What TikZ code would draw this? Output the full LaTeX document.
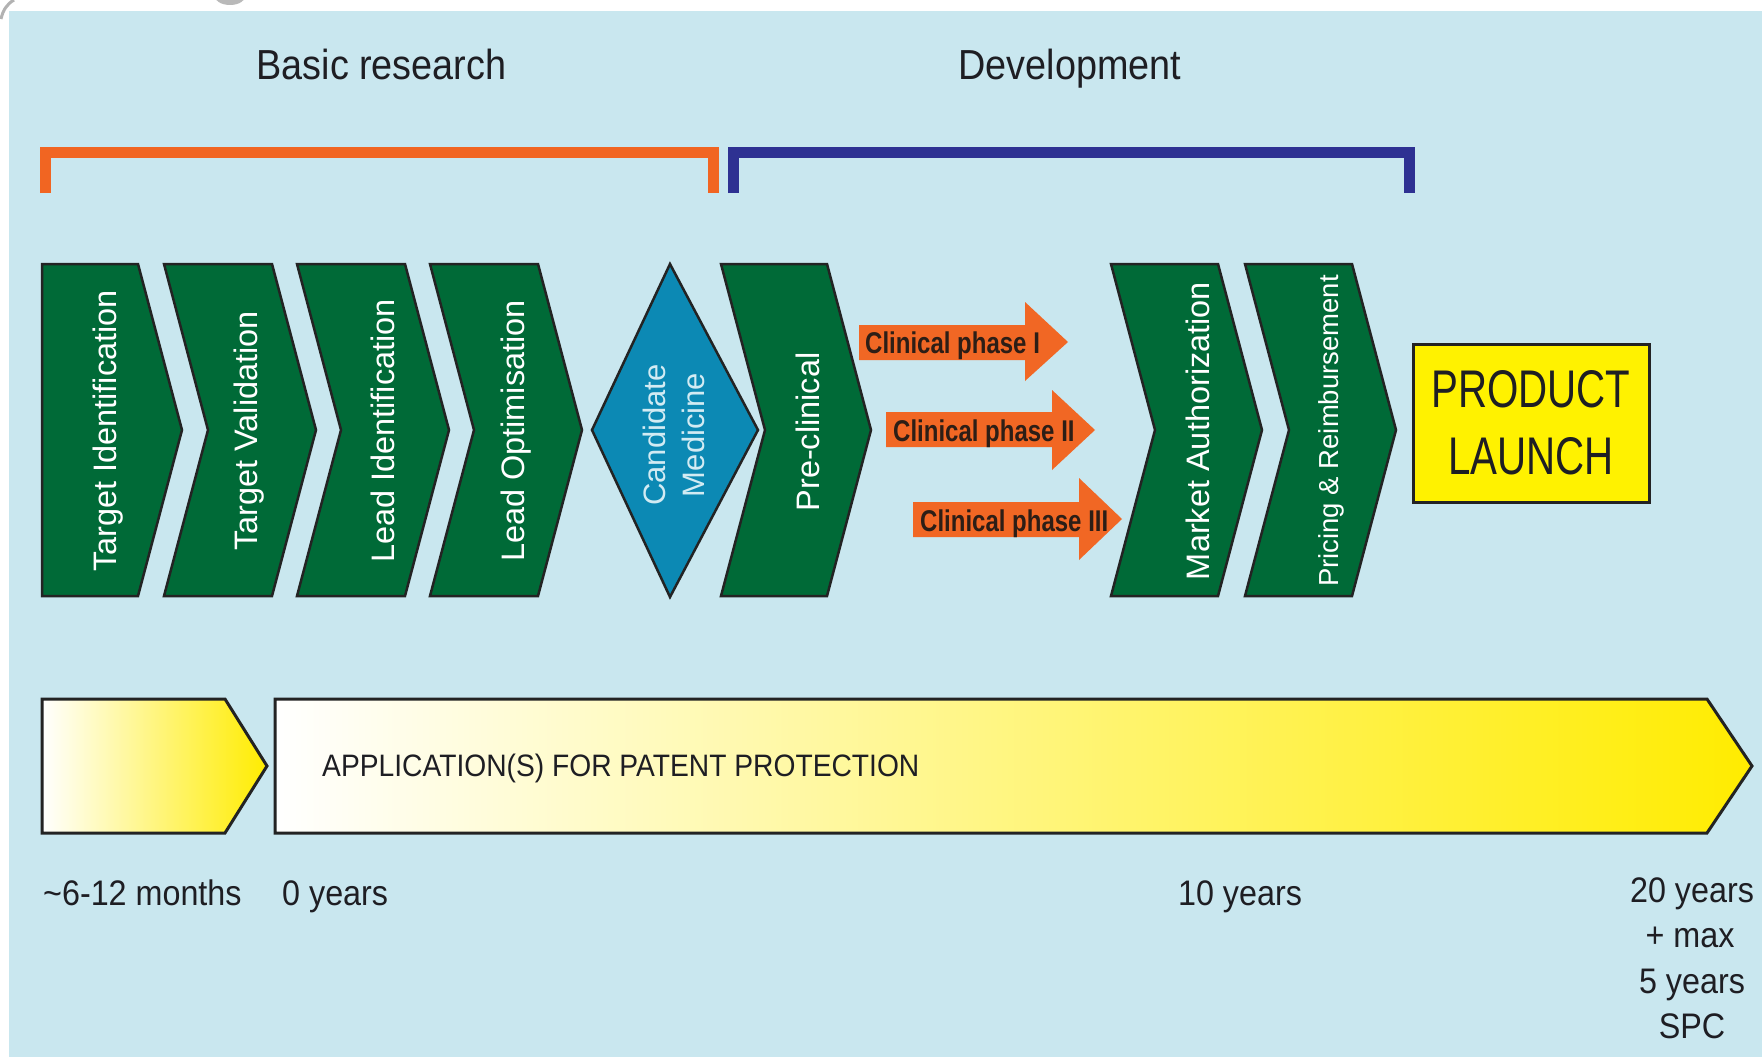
\documentclass[tikz,border=0pt]{standalone}
\usepackage{fontspec}
\setmainfont{Liberation Sans}
\newfontfamily\titlefont[FakeStretch=0.9]{Liberation Sans}
\newfontfamily\launchfont[FakeStretch=0.76]{Liberation Sans}
\newfontfamily\phasefont[FakeStretch=0.8]{Liberation Sans}
\newfontfamily\labelfont[FakeStretch=0.91]{Liberation Sans}

\definecolor{bgblue}{RGB}{201,231,239}
\definecolor{chevgreen}{RGB}{0,106,55}
\definecolor{diamblue}{RGB}{12,137,180}
\definecolor{phaseorange}{RGB}{241,103,36}
\definecolor{bracketorange}{RGB}{241,101,34}
\definecolor{bracketblue}{RGB}{46,49,146}
\definecolor{launchyellow}{RGB}{255,242,0}
\definecolor{patentyellow}{RGB}{255,236,0}
\definecolor{outline}{RGB}{35,35,35}
\definecolor{inkdark}{RGB}{30,30,35}
\definecolor{phaseink}{RGB}{45,30,22}
\definecolor{paleink}{RGB}{210,235,243}

\begin{document}
\begin{tikzpicture}[x=1pt,y=-1pt,
  stage/.style={fill=chevgreen,draw=outline,line width=2.5pt,line join=miter},
  gem/.style={fill=diamblue,draw=outline,line width=2.5pt},
  phase/.style={fill=phaseorange},
  patent/.style={draw=outline,line width=3pt,left color=white,right color=patentyellow},
  bracket/.style={line width=11pt,line cap=butt,line join=miter},
  stagetext/.style={rotate=90,text=white,font=\fontsize{32.5}{38}\selectfont,inner sep=0pt},
  phasetext/.style={anchor=base west,text=phaseink,font=\phasefont\bfseries\fontsize{30}{34}\selectfont,inner sep=0pt},
  headtext/.style={anchor=base,text=inkdark,font=\titlefont\fontsize{42}{46}\selectfont,inner sep=0pt},
  yeartext/.style={text=inkdark,font=\labelfont\fontsize{35.5}{40}\selectfont,inner sep=0pt}]

\useasboundingbox (0,0) rectangle (1762,1057);
\fill[white] (0,0) rectangle (1762,1057);
\fill[bgblue] (9,11) rectangle (1762,1057);
% grey corner decorations at the upper edge
\fill[gray!55] (230,-5) ellipse [x radius=16, y radius=10];
\draw[gray!60,line width=3pt] (1,19) .. controls (3,10) and (7,4) .. (14,0);

% phase headings and brackets
\node[headtext] (basic) at (381.5,80) {Basic research};
\node[headtext] (devel) at (1070,80) {Development};
\draw[bracket,bracketorange] (45,193) -- (45,152.5) -- (713,152.5) -- (713,193);
\draw[bracket,bracketblue] (733,193) -- (733,152.5) -- (1409.5,152.5) -- (1409.5,193);

% research stages
\draw[stage] (42,264) -- (138,264) -- (182,430) -- (138,596) -- (42,596) -- cycle;
\draw[stage] (164,264) -- (272,264) -- (316,430) -- (272,596) -- (164,596) -- (208,430) -- cycle;
\draw[stage] (297,264) -- (405,264) -- (449,430) -- (405,596) -- (297,596) -- (341,430) -- cycle;
\draw[stage] (430,264) -- (538,264) -- (582,430) -- (538,596) -- (430,596) -- (474,430) -- cycle;
\draw[gem] (592,430) -- (670,264) -- (758,430) -- (670,597) -- cycle;
\draw[stage] (721,264) -- (827,264) -- (871,430) -- (827,596) -- (721,596) -- (765,430) -- cycle;
\draw[stage] (1111,264) -- (1218,264) -- (1262,430) -- (1218,596) -- (1111,596) -- (1155,430) -- cycle;
\draw[stage] (1245,264) -- (1352,264) -- (1396,430) -- (1352,596) -- (1245,596) -- (1289,430) -- cycle;

\node[stagetext] (tid) at (108,431) {Target Identification};
\node[stagetext] (tval) at (249,431) {Target Validation};
\node[stagetext] (lid) at (383,431) {Lead Identification};
\node[stagetext] (lopt) at (516,431) {Lead Optimisation};
\node[stagetext,text=paleink,align=center,font=\fontsize{31}{39}\selectfont] (cand) at (674,435) {Candidate\\Medicine};
\node[stagetext] (pre) at (808,432) {Pre-clinical};
\node[stagetext,font=\fontsize{32.5}{38}\selectfont] (ma) at (1198,431) {Market Authorization};
\node[stagetext,font=\fontsize{27.5}{32}\selectfont] (pr) at (1331,431) {Pricing \& Reimbursement};

% clinical phases
\fill[phase] (859,325) -- (1025,325) -- (1025,302) -- (1068,342) -- (1025,381) -- (1025,360) -- (859,360) -- cycle;
\fill[phase] (886,412) -- (1052,412) -- (1052,390) -- (1095,430) -- (1052,470) -- (1052,447) -- (886,447) -- cycle;
\fill[phase] (913,502) -- (1079,502) -- (1079,478) -- (1122,519) -- (1079,560) -- (1079,537) -- (913,537) -- cycle;
\node[phasetext] (ph1) at (865,353) {Clinical phase I};
\node[phasetext] (ph2) at (893,441) {Clinical phase II};
\node[phasetext] (ph3) at (920,531) {Clinical phase III};

% launch box
\node[draw=outline,line width=3pt,fill=launchyellow,minimum width=236pt,minimum height=158pt,
      align=center,text=inkdark,font=\launchfont\fontsize{53}{67}\selectfont] (launch) at (1531,423) {PRODUCT\\LAUNCH};

% patent timeline
\draw[patent] (42,699) -- (225,699) -- (267,766) -- (225,833) -- (42,833) -- cycle;
\draw[patent] (275,699) -- (1707,699) -- (1752,766) -- (1707,833) -- (275,833) -- cycle;
\node[yeartext,anchor=base west,font=\labelfont\fontsize{31}{35}\selectfont] (appl) at (322,776) {APPLICATION(S) FOR PATENT PROTECTION};

\node[yeartext,anchor=base west] (m612) at (43,905) {\textasciitilde6-12 months};
\node[yeartext,anchor=base west] (y0) at (282,905) {0 years};
\node[yeartext,anchor=base] (y10) at (1240,905) {10 years};
\node[yeartext,anchor=base] (y20) at (1692,902) {20 years};
\node[yeartext,anchor=base] (ymax) at (1690,947) {+ max};
\node[yeartext,anchor=base] (y5) at (1692,993) {5 years};
\node[yeartext,anchor=base] (spc) at (1692,1038) {SPC};
\end{tikzpicture}
\end{document}
